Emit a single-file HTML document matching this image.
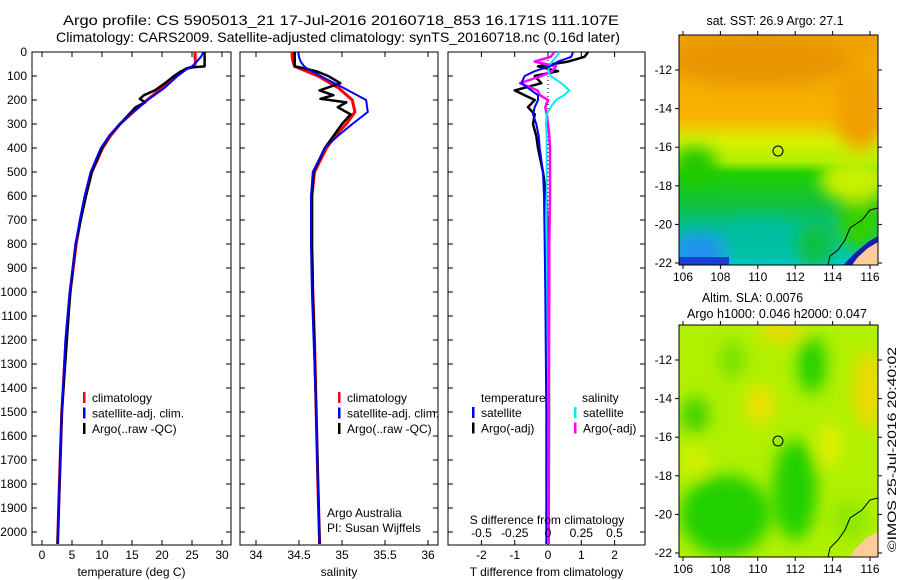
<!DOCTYPE html>
<html><head><meta charset="utf-8"><style>
body{margin:0;background:#fff;}
svg{display:block;font-family:"Liberation Sans",sans-serif;}
text{font-size:12px;fill:#000;}
</style></head><body>
<svg id="fig" width="900" height="580" viewBox="0 0 900 580">
<defs>
<clipPath id="c1"><rect x="32" y="52" width="199" height="493"/></clipPath>
<clipPath id="c2"><rect x="240" y="52" width="198" height="493"/></clipPath>
<clipPath id="c3"><rect x="448" y="52" width="197" height="493"/></clipPath>
<clipPath id="m1"><rect x="679" y="35" width="199" height="230"/></clipPath>
<clipPath id="m2"><rect x="679" y="325" width="199" height="232"/></clipPath>
<filter id="bl" x="-20%" y="-20%" width="140%" height="140%"><feGaussianBlur stdDeviation="8"/></filter>
<linearGradient id="sstg" x1="0" y1="0" x2="0" y2="1">
<stop offset="0" stop-color="#f0a000"/><stop offset="0.36" stop-color="#f8b400"/><stop offset="0.46" stop-color="#d8f000"/><stop offset="0.55" stop-color="#b0f000"/><stop offset="0.6" stop-color="#20d000"/><stop offset="0.74" stop-color="#10c040"/><stop offset="0.86" stop-color="#00c0a0"/><stop offset="1" stop-color="#00c8c8"/>
</linearGradient>
</defs>
<text x="341" y="25" text-anchor="middle" textLength="556" lengthAdjust="spacingAndGlyphs" style="font-size:14px">Argo profile: CS 5905013_21 17-Jul-2016 20160718_853 16.171S 111.107E</text>
<text x="338" y="42" text-anchor="middle" textLength="564" lengthAdjust="spacingAndGlyphs" style="font-size:14px">Climatology: CARS2009. Satellite-adjusted climatology: synTS_20160718.nc (0.16d later)</text>
<g id="p1"></g>
<g id="p2"></g>
<g id="p3"></g>

<g>
<g clip-path="url(#m1)">
<rect x="679" y="35" width="199" height="230" fill="url(#sstg)"/>
<g filter="url(#bl)">
<ellipse cx="760" cy="60" rx="90" ry="25" fill="#e89400"/>
<ellipse cx="860" cy="110" rx="25" ry="40" fill="#f0a000"/>
<ellipse cx="695" cy="165" rx="22" ry="18" fill="#20c800"/>
<ellipse cx="855" cy="180" rx="35" ry="22" fill="#c8f000"/>
<ellipse cx="860" cy="225" rx="22" ry="25" fill="#30d000"/>
<ellipse cx="700" cy="250" rx="30" ry="16" fill="#2090f0"/>
<ellipse cx="760" cy="240" rx="40" ry="20" fill="#00c0a0"/>
<ellipse cx="815" cy="245" rx="20" ry="22" fill="#10c040"/>
</g>
<rect x="679" y="257" width="50" height="8" fill="#1840d0"/>
<polygon points="878,236 868,242 856,252 846,262 844,265 878,265" fill="#1020b0"/>
<polygon points="878,242 868,248 858,257 852,265 878,265" fill="#ffcc99"/>
<polyline points="878,208 870,210 862,220 850,228 845,240 838,250 830,256 828,265" fill="none" stroke="#000" stroke-width="1"/>
<circle cx="778" cy="151" r="5" fill="none" stroke="#000"/>
</g>
<rect x="679" y="35" width="199" height="230" fill="none" stroke="#000"/>
<text x="775" y="25" text-anchor="middle" textLength="137" lengthAdjust="spacingAndGlyphs" style="font-size:13px">sat. SST: 26.9  Argo: 27.1</text>
</g>

<g>
<g clip-path="url(#m2)">
<rect x="679" y="325" width="199" height="232" fill="#b0f000"/>
<g filter="url(#bl)">
<ellipse cx="725" cy="515" rx="45" ry="40" fill="#20d000"/>
<ellipse cx="795" cy="490" rx="22" ry="50" fill="#20d000"/>
<ellipse cx="812" cy="365" rx="14" ry="28" fill="#20d000"/>
<ellipse cx="695" cy="415" rx="14" ry="18" fill="#40d000"/>
<ellipse cx="732" cy="360" rx="12" ry="18" fill="#70e000"/>
<ellipse cx="760" cy="405" rx="14" ry="20" fill="#f0e000"/>
<ellipse cx="868" cy="390" rx="14" ry="40" fill="#f0d800"/>
<ellipse cx="780" cy="332" rx="22" ry="10" fill="#f0d800"/>
<ellipse cx="830" cy="445" rx="10" ry="22" fill="#e8f000"/>
<ellipse cx="850" cy="520" rx="20" ry="20" fill="#90e800"/>
<ellipse cx="695" cy="460" rx="14" ry="14" fill="#d8f000"/>
</g>
<polygon points="878,532 866,538 856,548 850,557 878,557" fill="#ffcc99"/>
<polyline points="878,498 870,500 862,510 850,518 845,530 838,540 830,548 828,557" fill="none" stroke="#000"/>
<circle cx="778" cy="441" r="5" fill="none" stroke="#000"/>
</g>
<rect x="679" y="325" width="199" height="232" fill="none" stroke="#000"/>
<text x="702" y="302" textLength="101" lengthAdjust="spacingAndGlyphs" style="font-size:13px">Altim. SLA: 0.0076</text>
<text x="687" y="318" textLength="180" lengthAdjust="spacingAndGlyphs" style="font-size:13px">Argo h1000: 0.046 h2000: 0.047</text>
</g>
<g id="maxes"></g>
<text transform="translate(896,552) rotate(-90)" textLength="205" lengthAdjust="spacingAndGlyphs">©IMOS 25-Jul-2016 20:40:02</text>
</svg>
<script>
// ===== data =====
const depthTicks=[0,100,200,300,400,500,600,700,800,900,1000,1100,1200,1300,1400,1500,1600,1700,1800,1900,2000];
const tTicks=[0,5,10,15,20,25,30];
const sTicks=[34,34.5,35,35.5,36];
const sTickLabels=["34","34.5","35","35.5","36"];
const tdTicks=[-2,-1,0,1,2];
const sdTicks=[-0.5,-0.25,0,0.25,0.5];
const sdTickLabels=["-0.5","-0.25","0","0.25","0.5"];
const profDepth=[0,20,40,60,70,100,150,200,250,300,350,400,500,600,700,800,1000,1200,1500,1800,2050];
const tClim=[25.5,25.5,25.6,25.4,24,22.3,20,17.5,15.2,13,11.4,10.1,8.3,7.3,6.4,5.7,4.7,4,3.3,2.9,2.6];
const tSat=[26.9,26.5,25.8,25,24.2,22.6,20.4,17.6,15.2,12.9,11.2,9.8,8.1,7.1,6.3,5.6,4.6,3.9,3.3,2.9,2.6];
const argoDepth=[0,20,40,60,65,80,100,130,160,180,195,210,230,260,300,350,400,500,600,800,1000,1500,2050];
const tArgo=[27.1,27.1,27.1,27.1,24.5,23.2,22,20.5,18.8,17,16.3,17.2,15.6,14.5,13,11.2,10,8.3,7.3,5.6,4.7,3.3,2.6];
const sClim=[34.42,34.42,34.43,34.45,34.52,34.72,34.96,35.12,35.15,35.05,34.92,34.82,34.68,34.65,34.65,34.65,34.66,34.68,34.7,34.72,34.74];
const sSat=[34.49,34.5,34.52,34.56,34.6,34.75,35.02,35.28,35.3,35.12,34.95,34.8,34.66,34.64,34.64,34.64,34.65,34.67,34.7,34.72,34.74];
const sArgo=[34.45,34.45,34.45,34.45,34.52,34.7,34.84,34.98,34.74,34.9,34.75,35.05,34.95,35.1,35.0,34.9,34.8,34.67,34.65,34.65,34.66,34.7,34.74];
const dDepth=[0,20,40,60,80,100,130,160,180,200,230,260,300,350,400,500,600,800,1000,1500,2050];
const tdSat=[0.75,0.7,0.3,0.05,-0.4,-0.7,-0.8,-0.5,-0.3,-0.3,-0.4,-0.45,-0.35,-0.28,-0.25,-0.15,-0.12,-0.1,-0.08,-0.05,-0.05];
const tdArgo=[1.2,1.1,0.6,-0.3,0.3,-0.4,-0.2,-1.0,-0.7,-0.4,-0.6,-0.4,-0.45,-0.35,-0.3,-0.15,-0.05,0.0,0.02,0.03,0.02];
const sdSat=[0.09,0.06,0.03,0.01,0.0,0.02,0.1,0.16,0.12,0.06,0.02,-0.01,-0.015,-0.01,-0.01,-0.01,-0.01,-0.01,-0.01,-0.01,-0.01];
const sdArgo=[0.05,0.02,-0.1,0.06,0.03,-0.05,-0.21,-0.08,-0.06,0.0,-0.02,-0.01,0.0,0.01,0.015,0.015,0.015,0.01,0.01,0.005,0.005];
const lonTicks=[106,108,110,112,114,116];
const latTicks=[-12,-14,-16,-18,-20,-22];

const NS='http://www.w3.org/2000/svg';
function mk(parent,tag,attrs,txt){const e=document.createElementNS(NS,tag);for(const k in attrs)e.setAttribute(k,attrs[k]);if(txt!==undefined)e.textContent=txt;parent.appendChild(e);return e;}
const yD=d=>52+d*0.24;

function panel(g,x0,x1,clip,xs,ticks,labels,label){
  mk(g,'rect',{x:x0,y:52,width:x1-x0,height:493,fill:'none',stroke:'#000'});
  ticks.forEach((t,i)=>{const x=xs(t);
    mk(g,'line',{x1:x,x2:x,y1:545,y2:540,stroke:'#000'});
    mk(g,'line',{x1:x,x2:x,y1:52,y2:57,stroke:'#000'});
    const tx=mk(g,'text',{x:x,y:559,'text-anchor':'middle'},labels[i]);
    
    
  });
  depthTicks.forEach(d=>{mk(g,'line',{x1:x0,x2:x0+5,y1:yD(d),y2:yD(d),stroke:'#000'});mk(g,'line',{x1:x1,x2:x1-5,y1:yD(d),y2:yD(d),stroke:'#000'});});
  if(label){const l=mk(g,'text',{x:(x0+x1)/2,y:576,'text-anchor':'middle'},label);
    
    }
  return mk(g,'g',{'clip-path':'url(#'+clip+')'});
}
function line(g,xs,vals,depths,color,w,name){
  const p=depths.map((d,i)=>xs(vals[i]).toFixed(1)+','+yD(d).toFixed(1)).join(' ');
  const el=mk(g,'polyline',{points:p,fill:'none',stroke:color,'stroke-width':w,'stroke-linejoin':'round'});
  
  
}
function legend(g,x,y,items){items.forEach((it,i)=>{
  mk(g,'rect',{x:x,y:y+i*15.5-10,width:2.5,height:11,fill:it[0]});
  const t=mk(g,'text',{x:x+9,y:y+i*15.5},it[1]);
  
  
});}

const fig=document.getElementById('fig');
const dl=mk(fig,'g',{});


depthTicks.forEach(d=>mk(dl,'text',{x:27,y:yD(d)+4,'text-anchor':'end'},String(d)));

const xT=t=>42+t*6;
const g1=document.getElementById('p1');
const c1=panel(g1,32,231,'c1',xT,tTicks,tTicks.map(String),'temperature (deg C)');
line(c1,xT,tClim,profDepth,'#f00',3,'climatology-temperature');
line(c1,xT,tArgo,argoDepth,'#000',2.5,'argo-temperature');
line(c1,xT,tSat,profDepth,'#00f',2,'satellite-temperature');
legend(g1,83,402,[['#f00','climatology'],['#00f','satellite-adj. clim.'],['#000','Argo(..raw -QC)']]);

const xS=s=>256+(s-34)*86;
const g2=document.getElementById('p2');
const c2=panel(g2,240,438,'c2',xS,sTicks,sTickLabels,'salinity');
line(c2,xS,sClim,profDepth,'#f00',3,'climatology-salinity');
line(c2,xS,sArgo,argoDepth,'#000',2.5,'argo-salinity');
line(c2,xS,sSat,profDepth,'#00f',2,'satellite-salinity');
legend(g2,338,402,[['#f00','climatology'],['#00f','satellite-adj. clim.'],['#000','Argo(..raw -QC)']]);
mk(g2,'text',{x:327,y:517},'Argo Australia');
mk(g2,'text',{x:327,y:532},'PI: Susan Wijffels');

const xTd=t=>548+t*33.3;
const xSd=s=>548+s*133;
const g3=document.getElementById('p3');
const c3=panel(g3,448,645,'c3',xTd,tdTicks,tdTicks.map(String),'T difference from climatology');
mk(c3,'line',{x1:548,x2:548,y1:52,y2:545,stroke:'#000','stroke-dasharray':'1,3'});
line(c3,xTd,tdArgo,dDepth,'#000',2.5,'argo-t-difference');
line(c3,xSd,sdArgo,dDepth,'#f0f',2.5,'argo-s-difference');
line(c3,xSd,sdSat,dDepth,'#0ee',2,'satellite-s-difference');
line(c3,xTd,tdSat,dDepth,'#00f',2,'satellite-t-difference');
sdTicks.forEach((s,i)=>{const t=mk(g3,'text',{x:xSd(s),y:537,'text-anchor':'middle'},sdTickLabels[i]);
  
  });
mk(g3,'text',{x:547,y:524,'text-anchor':'middle'},'S difference from climatology');
mk(g3,'text',{x:481,y:402},'temperature');
mk(g3,'text',{x:582,y:402},'salinity');
legend(g3,472,417,[['#00f','satellite'],['#000','Argo(-adj)']]);
legend(g3,574,417,[['#0ee','satellite'],['#f0f','Argo(-adj)']]);

const ma=document.getElementById('maxes');
const lonX=l=>683+(l-106)*18.7;
[[35,265,70],[325,557,360]].forEach(([top,bot,y12])=>{
  lonTicks.forEach(l=>{const x=lonX(l);
    mk(ma,'line',{x1:x,x2:x,y1:bot,y2:bot+4,stroke:'#000'});
    mk(ma,'line',{x1:x,x2:x,y1:top,y2:top-4,stroke:'#000'});
    mk(ma,'text',{x:x,y:bot+16,'text-anchor':'middle'},String(l));});
  latTicks.forEach(l=>{const y=y12+(-12-l)*19.3;
    mk(ma,'line',{x1:675,x2:679,y1:y,y2:y,stroke:'#000'});
    mk(ma,'line',{x1:878,x2:882,y1:y,y2:y,stroke:'#000'});
    mk(ma,'text',{x:672,y:y+4,'text-anchor':'end'},String(l));});
});
</script>
</body></html>
